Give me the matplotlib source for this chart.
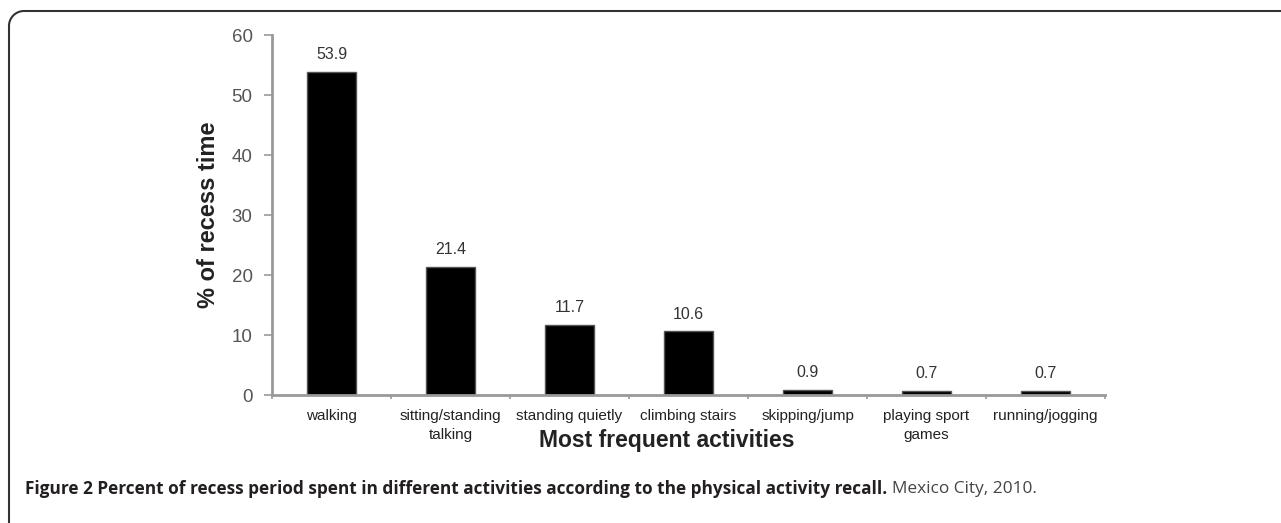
import numpy as np
import matplotlib
matplotlib.use("Agg")
import matplotlib.pyplot as plt

activities = [
    "walking",
    "sitting/standing\ntalking",
    "standing quietly",
    "climbing stairs",
    "skipping/jump",
    "playing sport\ngames",
    "running/jogging",
]
percent_time = [53.9, 21.4, 11.7, 10.6, 0.9, 0.7, 0.7]
y_ticks = [0, 10, 20, 30, 40, 50, 60]

W, H = 1281, 523
plt.rcParams["font.family"] = ["Liberation Sans", "DejaVu Sans"]

fig = plt.figure(figsize=(W / 100, H / 100), dpi=100)
ax = fig.add_axes([272 / W, 1 - 395 / H, (1105 - 272) / W, (395 - 35) / H])

x = np.arange(len(activities))
bars = ax.bar(x, percent_time, width=0.41, color="black", edgecolor="#555555", linewidth=1)

for xi, v in zip(x, percent_time):
    ax.annotate(f"{v}", (xi, v), xytext=(0, 7), textcoords="offset points",
                ha="center", va="bottom", fontsize=11.5, color="#333333")

ax.set_xlim(-0.5, len(activities) - 0.5)
ax.set_ylim(0, 60)
ax.set_yticks(y_ticks)
ax.set_xticks(x)
ax.set_xticklabels(activities, fontsize=11, color="#222222", linespacing=1.45)
ax.set_xticks(np.arange(len(activities) + 1) - 0.5, minor=True)
ax.tick_params(axis="x", which="major", length=0, pad=10)
ax.tick_params(axis="x", which="minor", length=3, color="#999999", width=1.2)
ax.tick_params(axis="y", length=6, color="#999999", width=1.2, labelsize=13.5,
               labelcolor="#555555", pad=8)

for s in ["top", "right"]:
    ax.spines[s].set_visible(False)
for s in ["left", "bottom"]:
    ax.spines[s].set_color("#999999")
    ax.spines[s].set_linewidth(2)

ax.set_ylabel("% of recess time", fontsize=17, fontweight="bold", color="#222222")
ax.yaxis.set_label_coords(-0.062, 0.5)

fig.text(667 / W, 1 - 440 / H, "Most frequent activities", ha="center", va="center",
         fontsize=16.5, fontweight="bold", color="#222222")

# caption
cap_bold = fig.text(25 / W, 1 - 489 / H,
                    "Figure 2 Percent of recess period spent in different activities "
                    "according to the physical activity recall.",
                    ha="left", va="center", fontsize=12.4, fontweight="bold",
                    family=["Open Sans", "DejaVu Sans"], color="#231f20")
fig.canvas.draw()
bb = cap_bold.get_window_extent()
fig.text((bb.x1 + 5) / W, 1 - 489 / H, "Mexico City, 2010.", ha="left", va="center",
         fontsize=12.4, family=["Open Sans", "DejaVu Sans"], color="#444444")

# rounded frame (top and left edges)
frame = fig.add_axes([0, 0, 1, 1], zorder=-1)
frame.set_xlim(0, W)
frame.set_ylim(H, 0)
frame.axis("off")
r = 15
t = np.linspace(np.pi, 1.5 * np.pi, 30)
fx = np.concatenate([[9], 9 + r + r * np.cos(t), [W]])
fy = np.concatenate([[H], 11 + r + r * np.sin(t), [11]])
frame.plot(fx, fy, color="#333333", linewidth=1.5)

fig.savefig("out.png", dpi=100)
